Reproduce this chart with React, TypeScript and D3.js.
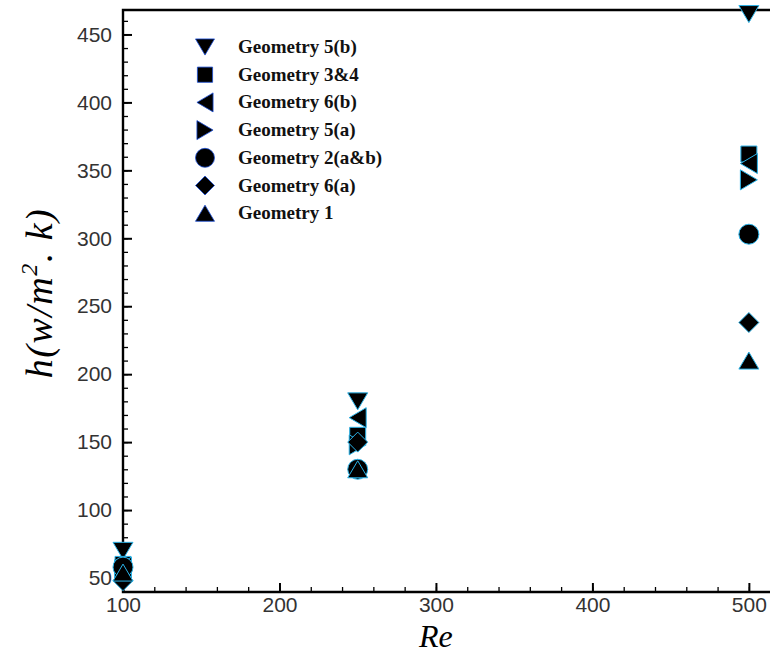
import React, { useEffect, useRef } from "react";
import * as d3 from "d3";

const reValues = [100, 250, 500];
const seriesNames = [
  "Geometry 5(b)",
  "Geometry 3&4",
  "Geometry 6(b)",
  "Geometry 5(a)",
  "Geometry 2(a&b)",
  "Geometry 6(a)",
  "Geometry 1",
];
const seriesShapes = ["down", "square", "left", "right", "circle", "diamond", "up"];
const geo5b = [70, 180, 465];
const geo34 = [60, 155, 362];
const geo6b = [58, 168, 355];
const geo5a = [56, 148, 343];
const geo2 = [58, 130, 303];
const geo6a = [48, 150, 238];
const geo1 = [54, 130, 210];
const seriesValues = [geo5b, geo34, geo6b, geo5a, geo2, geo6a, geo1];
const yTicks = [50, 100, 150, 200, 250, 300, 350, 400, 450];
const xTicks = [100, 200, 300, 400, 500];

const markerPath = (shape: string, s: number) => {
  const h = s / 2;
  switch (shape) {
    case "down":
      return `M${-h},${-h * 0.85}L${h},${-h * 0.85}L0,${h * 0.85}Z`;
    case "up":
      return `M${-h},${h * 0.85}L${h},${h * 0.85}L0,${-h * 0.85}Z`;
    case "left":
      return `M${-h * 0.85},0L${h * 0.85},${-h}L${h * 0.85},${h}Z`;
    case "right":
      return `M${h * 0.85},0L${-h * 0.85},${-h}L${-h * 0.85},${h}Z`;
    case "square":
      return `M${-h * 0.8},${-h * 0.8}H${h * 0.8}V${h * 0.8}H${-h * 0.8}Z`;
    case "diamond":
      return `M0,${-h}L${h},0L0,${h}L${-h},0Z`;
    default:
      return d3.symbol(d3.symbolCircle, Math.PI * h * h)() || "";
  }
};

const App: React.FC = () => {
  const svgRef = useRef<SVGSVGElement>(null);

  useEffect(() => {
    if (!svgRef.current) return;
    const width = 770;
    const height = 655;
    const margin = { top: 10, right: 0, bottom: 63, left: 123 };

    const x = d3.scaleLinear().domain([100, 513.5]).range([margin.left, width - margin.right]);
    const y = d3.scaleLinear().domain([39.7, 468]).range([height - margin.bottom, margin.top]);

    const svg = d3.select(svgRef.current).attr("width", width).attr("height", height);
    svg.selectAll("*").remove();

    const tickFont = "'Liberation Sans', Arial, sans-serif";

    // y axis, ticks inward
    const yAxis = svg
      .append("g")
      .attr("transform", `translate(${margin.left},0)`)
      .call(
        d3.axisLeft(y).tickValues(d3.range(40, 461, 10)).tickSize(-5).tickFormat(() => "")
      );
    yAxis.select(".domain").remove();
    yAxis.selectAll("line").attr("stroke", "#000").attr("stroke-width", 1.3);

    const yMajor = svg
      .append("g")
      .attr("transform", `translate(${margin.left},0)`)
      .call(d3.axisLeft(y).tickValues(yTicks).tickSize(-9).tickPadding(11));
    yMajor.select(".domain").remove();
    yMajor.selectAll("line").attr("stroke", "#000").attr("stroke-width", 2);
    yMajor
      .selectAll("text")
      .attr("font-family", tickFont)
      .attr("font-size", 21)
      .attr("fill", "#333");

    // x axis, ticks inward
    const xAxis = svg
      .append("g")
      .attr("transform", `translate(0,${height - margin.bottom})`)
      .call(
        d3.axisBottom(x).tickValues(d3.range(100, 513, 20)).tickSize(-5).tickFormat(() => "")
      );
    xAxis.select(".domain").remove();
    xAxis.selectAll("line").attr("stroke", "#000").attr("stroke-width", 1.3);

    const xMajor = svg
      .append("g")
      .attr("transform", `translate(0,${height - margin.bottom})`)
      .call(d3.axisBottom(x).tickValues(xTicks).tickSize(-9).tickPadding(5));
    xMajor.select(".domain").remove();
    xMajor.selectAll("line").attr("stroke", "#000").attr("stroke-width", 2);
    xMajor
      .selectAll("text")
      .attr("font-family", tickFont)
      .attr("font-size", 21)
      .attr("fill", "#333");

    // frame lines
    svg
      .append("path")
      .attr(
        "d",
        `M${width},${margin.top}H${margin.left}V${height - margin.bottom}H${width}`
      )
      .attr("fill", "none")
      .attr("stroke", "#000")
      .attr("stroke-width", 2.4);

    // markers
    seriesValues.forEach((vals, i) => {
      svg
        .append("g")
        .selectAll("path")
        .data(vals)
        .join("path")
        .attr("transform", (d, j) => `translate(${x(reValues[j])},${y(d)})`)
        .attr("d", markerPath(seriesShapes[i], 20))
        .attr("fill", "#000")
        .attr("stroke", "#2bb3e8")
        .attr("stroke-width", 1);
    });

    // legend
    const legend = svg.append("g");
    seriesNames.forEach((name, i) => {
      const ly = 47 + i * 27.7;
      legend
        .append("path")
        .attr("transform", `translate(205,${ly})`)
        .attr("d", markerPath(seriesShapes[i], 19))
        .attr("fill", "#000")
        .attr("stroke", "#1c4fd8")
        .attr("stroke-width", 0.8);
      legend
        .append("text")
        .attr("x", 238)
        .attr("y", ly + 6)
        .attr("font-family", "'Liberation Serif', 'Times New Roman', serif")
        .attr("font-weight", "bold")
        .attr("font-size", 19)
        .attr("fill", "#111")
        .text(name);
    });

    // axis titles
    const yTitle = svg
      .append("text")
      .attr("transform", "translate(52,293) rotate(-90)")
      .attr("text-anchor", "middle")
      .attr("font-family", "'Liberation Serif', 'DejaVu Serif', serif")
      .attr("font-style", "italic")
      .attr("font-size", 38)
      .attr("letter-spacing", 1.5)
      .attr("fill", "#000");
    yTitle.append("tspan").text("h(w/m");
    yTitle.append("tspan").attr("font-size", 24).attr("dy", -15).text("2");
    yTitle.append("tspan").attr("dy", 15).text(". k)");

    svg
      .append("text")
      .attr("x", x(300))
      .attr("y", 647)
      .attr("text-anchor", "middle")
      .attr("font-family", "'Liberation Serif', 'DejaVu Serif', serif")
      .attr("font-style", "italic")
      .attr("font-size", 32)
      .attr("fill", "#000")
      .text("Re");
  }, []);

  return (
    <div style={{ position: "absolute", left: 0, top: 0 }}>
      <svg ref={svgRef}></svg>
    </div>
  );
};

export default App;
